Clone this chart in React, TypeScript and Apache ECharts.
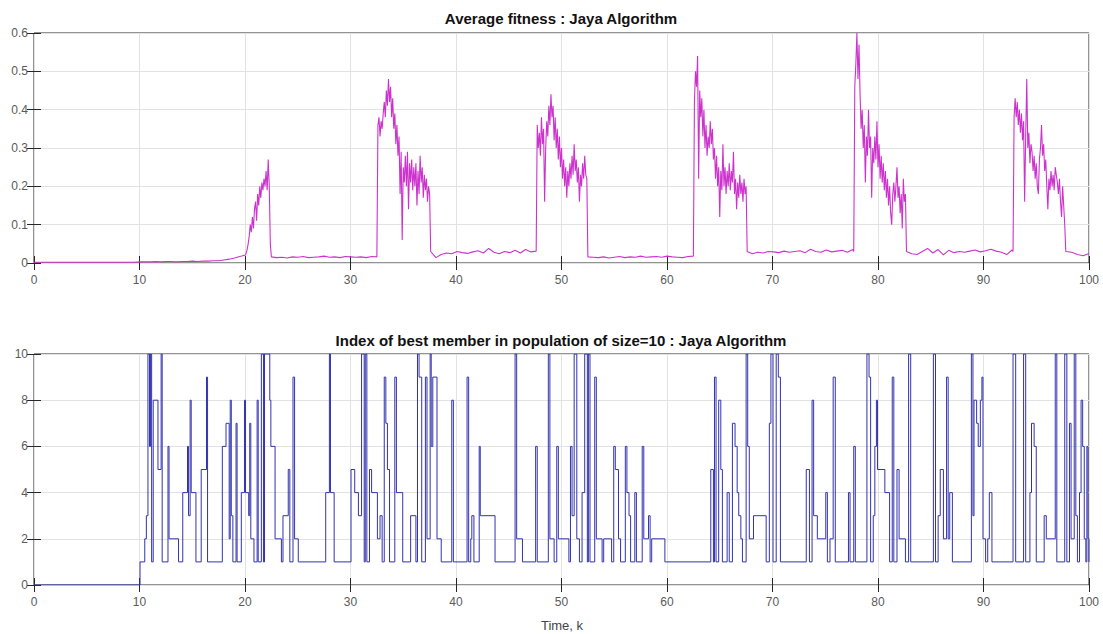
import React, { useEffect, useRef } from "react";
import * as echarts from "echarts";

// ---------- Top plot: average fitness (sampled segments) ----------
const fitQuiet0 = [0.002, 0.002, 0.002, 0.002, 0.002, 0.002, 0.002, 0.002, 0.002, 0.002, 0.002, 0.002, 0.002, 0.002, 0.002, 0.002, 0.002, 0.002, 0.002, 0.002, 0.003, 0.003, 0.003, 0.004, 0.003, 0.004, 0.004, 0.003, 0.004, 0.004, 0.005, 0.004, 0.005, 0.005, 0.006, 0.006, 0.008, 0.01, 0.013, 0.017];
const fitBurst0 = [0.02, 0.025, 0.035, 0.05, 0.07, 0.1, 0.08, 0.12, 0.09, 0.14, 0.16, 0.11, 0.18, 0.15, 0.2, 0.17, 0.21, 0.19, 0.22, 0.2, 0.24, 0.19, 0.27, 0.2, 0.05];
const fitQuiet1 = [0.016, 0.014, 0.015, 0.013, 0.016, 0.015, 0.017, 0.014, 0.015, 0.016, 0.018, 0.015, 0.016, 0.014, 0.017, 0.016, 0.015, 0.016, 0.014, 0.017, 0.016];
const fitBurst1 = [0.36, 0.38, 0.33, 0.37, 0.35, 0.39, 0.42, 0.38, 0.45, 0.41, 0.48, 0.42, 0.46, 0.38, 0.43, 0.35, 0.39, 0.31, 0.36, 0.28, 0.33, 0.18, 0.29, 0.06, 0.25, 0.21, 0.28, 0.2, 0.29, 0.14, 0.26, 0.21, 0.27, 0.19, 0.25, 0.2, 0.26, 0.15, 0.24, 0.18, 0.28, 0.21, 0.25, 0.17, 0.23, 0.19, 0.22, 0.16, 0.2, 0.18];
const fitQuiet2 = [0.03, 0.014, 0.022, 0.026, 0.024, 0.03, 0.027, 0.025, 0.029, 0.032, 0.026, 0.038, 0.028, 0.024, 0.03, 0.027, 0.033, 0.026, 0.035, 0.029, 0.031];
const fitBurst2 = [0.36, 0.3, 0.34, 0.28, 0.38, 0.31, 0.35, 0.16, 0.3, 0.37, 0.33, 0.41, 0.36, 0.44, 0.38, 0.41, 0.32, 0.38, 0.3, 0.35, 0.27, 0.33, 0.25, 0.3, 0.22, 0.27, 0.2, 0.25, 0.17, 0.24, 0.2, 0.26, 0.22, 0.28, 0.23, 0.31, 0.24, 0.27, 0.21, 0.25, 0.16, 0.23, 0.2, 0.26, 0.22, 0.28, 0.23, 0.22];
const fitQuiet3 = [0.016, 0.015, 0.014, 0.016, 0.013, 0.015, 0.017, 0.014, 0.016, 0.015, 0.018, 0.015, 0.016, 0.017, 0.015, 0.018, 0.016, 0.015, 0.014, 0.017, 0.018];
const fitBurst3 = [0.42, 0.5, 0.46, 0.54, 0.22, 0.45, 0.38, 0.43, 0.33, 0.4, 0.3, 0.36, 0.28, 0.33, 0.3, 0.37, 0.31, 0.35, 0.27, 0.3, 0.22, 0.28, 0.2, 0.25, 0.12, 0.24, 0.19, 0.31, 0.2, 0.25, 0.18, 0.24, 0.2, 0.26, 0.19, 0.24, 0.21, 0.29, 0.18, 0.22, 0.14, 0.21, 0.17, 0.23, 0.18, 0.21, 0.16, 0.22, 0.18, 0.2];
const fitQuiet4 = [0.03, 0.024, 0.028, 0.026, 0.03, 0.029, 0.027, 0.031, 0.028, 0.03, 0.032, 0.027, 0.036, 0.03, 0.028, 0.034, 0.029, 0.031, 0.033, 0.028, 0.035];
const fitBurst4 = [0.03, 0.46, 0.52, 0.6, 0.48, 0.57, 0.44, 0.35, 0.4, 0.3, 0.36, 0.21, 0.33, 0.28, 0.4, 0.3, 0.33, 0.17, 0.3, 0.26, 0.33, 0.27, 0.37, 0.25, 0.31, 0.22, 0.28, 0.21, 0.26, 0.19, 0.24, 0.17, 0.22, 0.15, 0.2, 0.13, 0.1, 0.18, 0.21, 0.16, 0.2, 0.25, 0.17, 0.2, 0.13, 0.18, 0.09, 0.22, 0.16, 0.18];
const fitQuiet5 = [0.03, 0.024, 0.022, 0.03, 0.038, 0.026, 0.035, 0.021, 0.033, 0.027, 0.03, 0.028, 0.031, 0.034, 0.029, 0.032, 0.036, 0.031, 0.028, 0.022, 0.034];
const fitBurst5 = [0.03, 0.38, 0.43, 0.38, 0.42, 0.36, 0.4, 0.34, 0.39, 0.32, 0.37, 0.16, 0.33, 0.48, 0.3, 0.34, 0.26, 0.31, 0.29, 0.24, 0.28, 0.22, 0.26, 0.2, 0.18, 0.27, 0.3, 0.36, 0.28, 0.31, 0.24, 0.27, 0.2, 0.14, 0.22, 0.19, 0.24, 0.2, 0.23, 0.19, 0.25, 0.23, 0.21, 0.18, 0.22, 0.16, 0.12, 0.2, 0.15, 0.1];
const fitQuiet6 = [0.03, 0.028, 0.022, 0.019, 0.025];

// segment start times and sampling steps
const fitStarts = [0, 20.0, 22.5, 32.6, 37.6, 47.7, 52.5, 62.6, 67.6, 77.7, 82.7, 92.8, 97.8];
const fitSteps = [0.5, 0.1, 0.5, 0.1, 0.5, 0.1, 0.5, 0.1, 0.5, 0.1, 0.5, 0.1, 0.55];
const fitSegments = [fitQuiet0, fitBurst0, fitQuiet1, fitBurst1, fitQuiet2, fitBurst2, fitQuiet3, fitBurst3, fitQuiet4, fitBurst4, fitQuiet5, fitBurst5, fitQuiet6];

// ---------- Bottom plot: index of best member (change points: [time, index]) ----------
const bestMember: [number, number][] = [
  [0, 0], [10.05, 1], [10.5, 2], [10.65, 3], [10.8, 10], [10.95, 6], [11.05, 10], [11.15, 1], [11.3, 8], [11.75, 5], [12.05, 10], [12.15, 1],
  [12.7, 6], [12.8, 2], [13.7, 1], [14.1, 4], [14.55, 6], [14.65, 3], [14.8, 8], [14.9, 4], [15.35, 1], [15.85, 5], [16.35, 9], [16.45, 1],
  [17.85, 6], [18.2, 7], [18.5, 2], [18.6, 8], [18.7, 3], [18.85, 1], [19.15, 7], [19.25, 1], [19.65, 4], [19.95, 8], [20.05, 4], [20.35, 3],
  [20.45, 7], [20.55, 2], [20.85, 1], [21.15, 8], [21.25, 1], [21.55, 10], [21.75, 1], [21.85, 10], [22.35, 8], [22.45, 6], [22.85, 2], [23.45, 1],
  [23.6, 3], [24.1, 5], [24.25, 1], [24.55, 9], [24.7, 2], [25.05, 1], [27.65, 4], [28.0, 10], [28.1, 4], [28.45, 1], [30.05, 5], [30.4, 4],
  [30.75, 3], [31.05, 10], [31.3, 1], [31.4, 10], [31.55, 1], [31.8, 5], [32.0, 4], [32.55, 2], [32.8, 3], [33.0, 1], [33.2, 9], [33.35, 7],
  [33.5, 5], [33.7, 1], [34.2, 9], [34.35, 4], [34.95, 1], [35.7, 3], [36.2, 1], [36.35, 10], [36.5, 9], [36.75, 1], [37.1, 9], [37.25, 2],
  [37.55, 10], [37.65, 6], [37.8, 9], [38.2, 2], [38.6, 1], [39.6, 8], [39.75, 1], [41.05, 9], [41.2, 1], [41.4, 2], [41.5, 3], [41.7, 1],
  [42.2, 6], [42.3, 3], [43.7, 1], [45.6, 10], [45.75, 2], [46.3, 1], [47.55, 6], [47.7, 1], [48.75, 10], [48.9, 2], [49.3, 1], [49.55, 6],
  [49.7, 2], [50.7, 1], [50.85, 6], [51.0, 3], [51.2, 10], [51.45, 2], [51.7, 1], [51.95, 4], [52.2, 10], [52.45, 1], [52.55, 10], [52.7, 1],
  [53.15, 9], [53.3, 2], [53.85, 1], [54.0, 2], [54.75, 1], [54.95, 6], [55.1, 5], [55.4, 2], [55.6, 1], [56.05, 6], [56.2, 4], [56.4, 3],
  [56.55, 1], [56.95, 4], [57.1, 1], [57.65, 6], [57.8, 2], [58.25, 3], [58.4, 1], [58.55, 2], [59.8, 1], [64.15, 5], [64.4, 1], [64.5, 9],
  [64.65, 1], [64.9, 8], [65.1, 5], [65.25, 1], [65.7, 4], [65.9, 1], [66.2, 7], [66.45, 6], [66.65, 4], [66.8, 3], [67.0, 2], [67.15, 1],
  [67.5, 10], [67.65, 6], [67.8, 2], [68.2, 3], [69.4, 1], [69.7, 7], [69.85, 10], [70.05, 1], [70.35, 10], [70.55, 9], [70.75, 1], [73.2, 5],
  [73.5, 1], [73.75, 8], [73.9, 3], [74.25, 2], [75.05, 4], [75.2, 1], [75.45, 2], [75.75, 9], [75.95, 1], [77.2, 4], [77.35, 1], [77.7, 6],
  [77.85, 1], [78.95, 10], [79.15, 9], [79.3, 1], [79.55, 3], [79.7, 6], [79.85, 8], [79.95, 5], [80.65, 4], [81.1, 1], [81.35, 9], [81.5, 1],
  [81.8, 5], [82.0, 2], [82.6, 1], [82.9, 10], [83.1, 1], [85.25, 10], [85.45, 1], [85.7, 3], [85.9, 5], [86.2, 2], [86.5, 9], [86.65, 2],
  [86.8, 4], [87.05, 1], [88.85, 10], [89.0, 3], [89.1, 8], [89.35, 7], [89.5, 6], [89.7, 8], [89.85, 9], [89.95, 2], [90.2, 1], [90.4, 2],
  [90.55, 4], [90.8, 1], [92.8, 10], [93.05, 1], [93.8, 10], [94.0, 1], [94.4, 4], [94.55, 7], [94.8, 6], [95.0, 1], [95.75, 3], [95.95, 2],
  [96.8, 10], [96.95, 1], [97.7, 10], [97.9, 1], [98.15, 7], [98.3, 2], [98.6, 10], [98.75, 3], [98.9, 1], [99.1, 4], [99.25, 8], [99.4, 6],
  [99.55, 2], [99.7, 1], [99.8, 6], [99.9, 2], [100, 1],
];

// ---------- axes / labels ----------
const titleTop = "Average fitness : Jaya Algorithm";
const titleBottom = "Index of best member in population of size=10 : Jaya Algorithm";
const xLabel = "Time, k";

const FONT = "'Liberation Sans', Arial, sans-serif";
const FRAME = "#262626";
const LABEL = "#5a5a5a";

function buildFitness(): [number, number][] {
  const out: [number, number][] = [];
  fitSegments.forEach((vals, s) => {
    vals.forEach((v, i) => {
      out.push([+(fitStarts[s] + i * fitSteps[s]).toFixed(3), v]);
    });
  });
  return out;
}

function mainX(gridIndex: number) {
  return {
    type: "value", gridIndex, min: 0, max: 100, interval: 10,
    axisLine: { show: false },
    axisTick: { show: true, inside: true, length: 7, lineStyle: { color: FRAME } },
    axisLabel: { show: true, fontSize: 12, color: LABEL, margin: 11, fontFamily: FONT },
    splitLine: { show: true, lineStyle: { color: "#e2e2e2", width: 1 } },
  };
}
function mirrorX(gridIndex: number) {
  return {
    type: "value", gridIndex, position: "top", min: 0, max: 100, interval: 10,
    axisLine: { show: false },
    axisTick: { show: true, inside: true, length: 7, lineStyle: { color: FRAME } },
    axisLabel: { show: false }, splitLine: { show: false },
  };
}
function mainY(gridIndex: number, max: number, interval: number) {
  return {
    type: "value", gridIndex, min: 0, max, interval,
    axisLine: { show: false },
    axisTick: { show: true, inside: true, length: 7, lineStyle: { color: FRAME } },
    axisLabel: { show: true, fontSize: 12, color: LABEL, margin: 6, fontFamily: FONT },
    splitLine: { show: true, lineStyle: { color: "#e2e2e2", width: 1 } },
  };
}
function mirrorY(gridIndex: number, max: number, interval: number) {
  return {
    type: "value", gridIndex, position: "right", min: 0, max, interval,
    axisLine: { show: false },
    axisTick: { show: true, inside: true, length: 7, lineStyle: { color: FRAME } },
    axisLabel: { show: false }, splitLine: { show: false },
  };
}

export default function App() {
  const ref = useRef<HTMLDivElement>(null);
  useEffect(() => {
    const chart = echarts.init(ref.current!, null, { renderer: "svg" });
    const option: any = {
      animation: false,
      backgroundColor: "#ffffff",
      grid: [
        { left: 34, right: 14, top: 33, height: 230, show: true, borderColor: FRAME, borderWidth: 1, backgroundColor: "#fff" },
        { left: 34, right: 14, top: 354, height: 231, show: true, borderColor: FRAME, borderWidth: 1, backgroundColor: "#fff" },
      ],
      xAxis: [mainX(0), mirrorX(0), mainX(1), mirrorX(1)],
      yAxis: [mainY(0, 0.6, 0.1), mirrorY(0, 0.6, 0.1), mainY(1, 10, 2), mirrorY(1, 10, 2)],
      series: [
        {
          type: "line", xAxisIndex: 0, yAxisIndex: 0, data: buildFitness(),
          showSymbol: false, symbol: "none",
          lineStyle: { color: "#cc33cc", width: 1.1 },
        },
        {
          type: "line", xAxisIndex: 2, yAxisIndex: 2, data: bestMember, step: "end",
          showSymbol: false, symbol: "none",
          lineStyle: { color: "#3232b0", width: 1 },
        },
      ],
      graphic: [
        { type: "text", x: 561, y: 18, style: { text: titleTop, fontSize: 15, fontWeight: "bold", fontFamily: FONT, fill: "#111", align: "center", verticalAlign: "middle" } },
        { type: "text", x: 561, y: 340, style: { text: titleBottom, fontSize: 15, fontWeight: "bold", fontFamily: FONT, fill: "#111", align: "center", verticalAlign: "middle" } },
        { type: "text", x: 562, y: 619, style: { text: xLabel, fontSize: 13, fontFamily: FONT, fill: "#444", align: "center", verticalAlign: "top" } },
      ],
    };
    chart.setOption(option);
    return () => chart.dispose();
  }, []);
  return (
    <div
      ref={ref}
      style={{ position: "fixed", left: 0, top: 0, width: 1103, height: 634, background: "#fff" }}
    />
  );
}
